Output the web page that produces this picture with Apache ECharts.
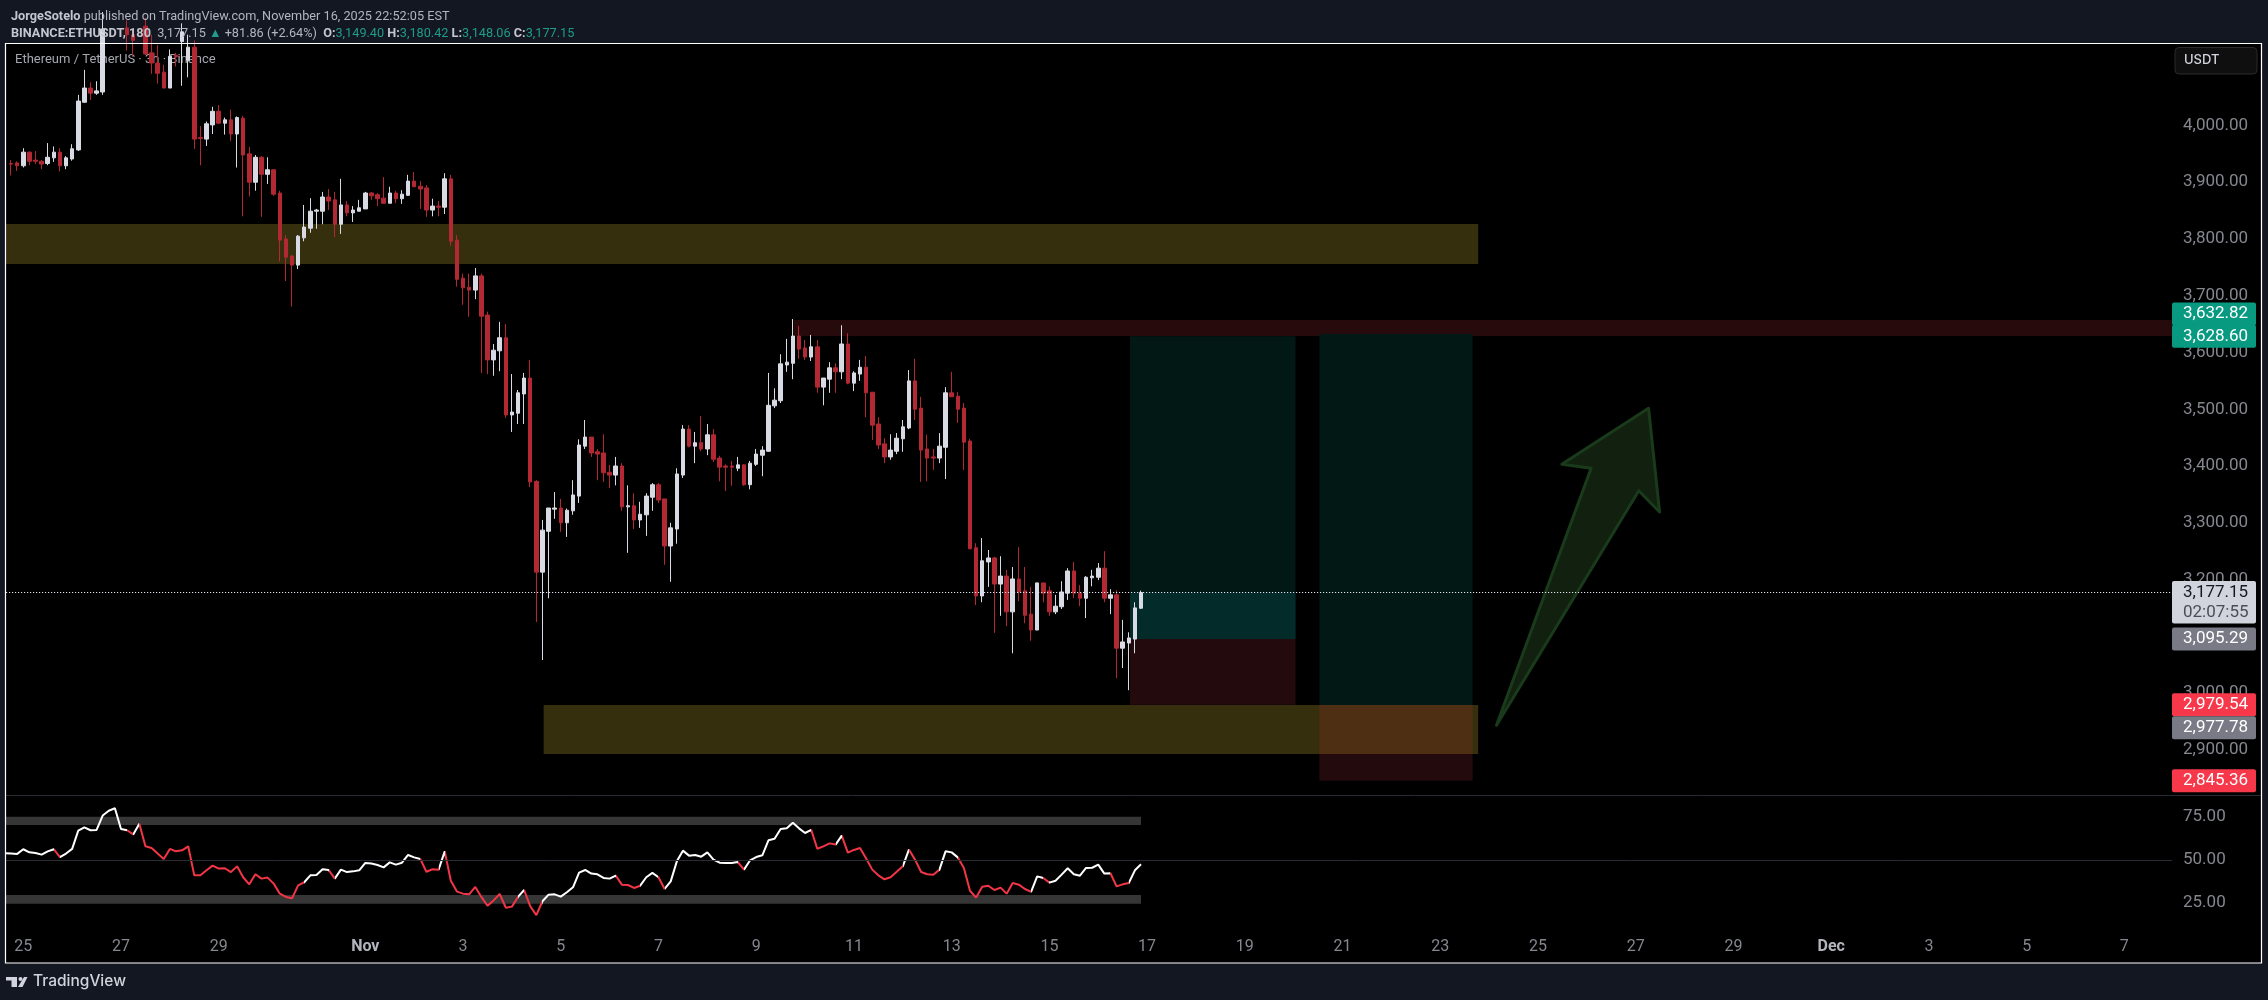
<!DOCTYPE html>
<html>
<head>
<meta charset="utf-8">
<title>ETHUSDT</title>
<style>
html,body{margin:0;padding:0;background:#131722;}
#main{width:2268px;height:1000px;}
</style>
<script src="https://cdn.jsdelivr.net/npm/echarts@6/dist/echarts.min.js"></script>
</head>
<body>
<div id="main"></div>
<script>
var myChart = echarts.init(document.getElementById('main'));

// 3h candles, bar 0 = Oct 25 00:00, first candle sits two bars earlier
var firstBar = -2;
var opens = [
	3933,3934,3929,3953,3939,3937,3933,3943,3953,3929,
	3941,3957,4041,4066,4057,4059,4170,4185,4180,4172,
	4160,4150,4175,4128,4110,4094,4066,4124,4148,4115,
	4138,3979,3976,4001,4025,4004,4010,3985,4013,3950,
	3900,3944,3914,3922,3881,3800,3770,3754,3802,3819,
	3849,3849,3874,3869,3826,3860,3846,3849,3853,3881,
	3878,3872,3863,3881,3871,3877,3902,3893,3890,3851,
	3858,3856,3906,3798,3731,3715,3710,3735,3666,3587,
	3603,3626,3490,3493,3527,3555,3373,3213,3285,3324,
	3326,3300,3321,3347,3435,3451,3425,3423,3389,3384,
	3400,3328,3330,3305,3314,3345,3367,3342,3259,3289,
	3384,3465,3435,3441,3430,3455,3414,3400,3400,3396,
	3402,3367,3403,3419,3426,3506,3515,3578,3581,3629,
	3608,3592,3610,3539,3553,3573,3566,3615,3546,3562,
	3574,3530,3474,3439,3416,3426,3448,3467,3550,3502,
	3430,3416,3414,3433,3529,3523,3502,3444,3256,3171,
	3231,3238,3192,3206,3143,3201,3180,3139,3111,3194,
	3180,3143,3152,3176,3215,3176,3167,3203,3204,3220,
	3167,3173,3079,3088,3095,3149.40
];
var closes = [
	3932,3929,3953,3937,3937,3932,3944,3953,3929,3943,
	3959,4043,4066,4057,4061,4170,4185,4180,4172,4160,
	4150,4175,4126,4110,4092,4066,4122,4121,4165,4138,
	3976,3977,4003,4025,4004,4010,3985,4014,3948,3900,
	3944,3914,3922,3879,3798,3768,3754,3805,3821,3849,
	3851,3874,3867,3826,3860,3846,3851,3855,3881,3876,
	3871,3863,3881,3871,3879,3902,3892,3888,3851,3858,
	3856,3906,3796,3729,3714,3710,3735,3664,3587,3604,
	3626,3490,3495,3529,3555,3372,3213,3287,3326,3326,
	3300,3322,3349,3437,3451,3423,3421,3388,3384,3400,
	3328,3330,3305,3315,3347,3367,3340,3259,3291,3386,
	3465,3435,3441,3430,3455,3412,3398,3398,3398,3402,
	3367,3405,3421,3428,3507,3516,3580,3583,3629,3606,
	3592,3610,3539,3555,3573,3566,3615,3546,3564,3574,
	3529,3472,3437,3416,3428,3449,3469,3550,3500,3428,
	3414,3414,3435,3529,3522,3500,3442,3254,3171,3233,
	3238,3192,3206,3143,3201,3178,3137,3111,3194,3176,
	3143,3153,3178,3215,3176,3167,3204,3206,3220,3167,
	3173,3079,3090,3097,3150,3177.15
];
var lows = [
	3912,3920,3926,3930,3932,3923,3930,3936,3919,3923,
	3938,3955,4040,4045,4054,4054,4160,4165,4160,4132,
	4121,4148,4124,4091,4074,4066,4066,4104,4070,4085,
	3959,3930,3964,3985,4003,3984,3973,3926,3840,3875,
	3885,3839,3897,3876,3760,3726,3681,3747,3796,3811,
	3818,3826,3851,3803,3809,3840,3830,3849,3853,3869,
	3858,3862,3863,3863,3862,3876,3892,3853,3839,3840,
	3840,3844,3788,3716,3684,3663,3694,3564,3562,3559,
	3567,3485,3460,3474,3474,3363,3125,3058,3167,3307,
	3284,3275,3314,3335,3430,3416,3375,3372,3361,3366,
	3321,3247,3289,3291,3277,3321,3335,3226,3196,3263,
	3379,3433,3405,3426,3419,3407,3373,3356,3365,3391,
	3365,3359,3400,3382,3425,3502,3511,3566,3553,3589,
	3587,3585,3529,3507,3529,3529,3553,3544,3532,3550,
	3486,3446,3430,3405,3411,3421,3425,3465,3481,3372,
	3373,3393,3405,3377,3522,3476,3393,3254,3155,3160,
	3187,3106,3136,3118,3070,3162,3123,3092,3111,3160,
	3136,3139,3148,3164,3167,3153,3132,3188,3199,3160,
	3139,3026,3044,3005,3070,3148.06
];
var highs = [
	3939,3937,3960,3954,3955,3939,3969,3963,3960,3946,
	3967,4054,4098,4076,4078,4200,4195,4200,4190,4185,
	4170,4190,4190,4160,4142,4107,4134,4128,4180,4160,
	4150,3999,4007,4033,4036,4014,4028,4016,4017,3962,
	3948,3946,3944,3923,3885,3807,3772,3807,3860,3872,
	3853,3883,3888,3883,3906,3867,3858,3869,3883,3883,
	3881,3909,3892,3885,3886,3913,3918,3902,3895,3871,
	3867,3916,3913,3807,3739,3739,3749,3739,3672,3615,
	3654,3650,3562,3534,3564,3587,3375,3305,3326,3354,
	3342,3325,3375,3447,3481,3451,3430,3456,3402,3416,
	3405,3366,3352,3337,3352,3370,3370,3342,3300,3396,
	3472,3472,3460,3488,3474,3465,3418,3403,3409,3416,
	3403,3409,3430,3435,3564,3537,3597,3624,3659,3647,
	3622,3631,3622,3555,3583,3581,3648,3634,3567,3587,
	3594,3530,3486,3449,3456,3458,3481,3569,3589,3522,
	3455,3430,3458,3539,3566,3530,3511,3448,3264,3273,
	3252,3240,3241,3217,3222,3257,3222,3187,3194,3194,
	3188,3173,3197,3220,3231,3190,3206,3217,3229,3250,
	3183,3181,3129,3107,3160,3180.42
];

// RSI, starts one bar before the candles
var rsiFirstBar = -3;
var rsi = [
	53.9,
	53.7,53.5,56.2,54.4,54.0,53.1,55.0,56.2,51.7,53.7,
	56.4,67.0,68.9,67.2,67.4,75.7,78.5,79.9,67.9,67.2,
	64.8,71.0,57.9,56.9,53.7,50.6,56.4,55.0,55.6,57.9,
	41.1,41.1,44.0,46.7,45.0,45.2,43.0,46.3,40.0,35.9,
	41.7,39.2,39.8,36.3,30.5,28.6,27.8,35.3,37.1,41.1,
	41.3,44.6,44.2,39.2,44.4,43.0,43.4,44.0,48.3,47.9,
	47.1,45.7,48.6,47.3,48.4,52.9,51.5,50.6,43.2,44.6,
	44.4,55.0,38.0,31.7,30.5,30.1,34.4,28.6,23.5,26.6,
	30.3,22.4,23.0,28.6,32.6,23.2,18.1,26.1,29.9,30.1,
	28.8,31.3,34.2,42.7,44.2,42.1,41.7,39.6,39.2,40.9,
	35.7,35.5,33.8,35.1,40.0,42.5,40.0,33.2,37.6,49.2,
	55.4,52.5,52.9,51.9,54.4,50.2,48.4,48.3,48.3,48.8,
	44.4,49.8,51.7,52.7,61.4,62.3,67.9,68.3,71.6,68.3,
	65.6,67.4,56.5,57.9,59.6,58.9,64.1,54.2,55.8,56.9,
	50.8,44.4,41.1,38.8,40.0,43.2,46.3,56.0,50.2,43.0,
	41.7,41.5,44.4,55.0,54.4,51.5,45.4,32.2,28.2,34.5,
	35.1,32.6,34.0,30.5,36.7,35.7,33.2,31.5,40.5,39.6,
	36.9,38.0,41.5,45.2,41.7,40.9,45.4,45.5,47.3,42.1,
	42.3,34.7,35.9,36.7,44.0,47.5
];
// candle numbers where the RSI line turns red
var rsiRedRanges = [[7,8],[19,20],[21,48],[52,53],[67,70],[71,83],[84,87],[99,103],[106,107],[119,120],[131,135],[136,146],[147,152],[155,167],[169,170],[180,183]];

// axes
var priceTicks = [4000,3900,3800,3700,3600,3500,3400,3300,3200,3000,2900];
var rsiTicks = [75,50,25];
var dayTicks = [0,16,32,56,72,88,104,120,136,152,168,184,200,216,232,248,264,280,296,312,328,344];
var dayLabels = ['25','27','29','Nov','3','5','7','9','11','13','15','17','19','21','23','25','27','29','Dec','3','5','7'];

// drawings on the chart, [bar, price]
var upperZone = [[-2.83,3826.4],[238.2,3756]];
var lowerZone = [[85.2,2978.9],[238.2,2892.5]];
var redBand = [[126.1,3657.3],[351.8,3629]];
var lastPrice = 3177.15;
var longA = {left:181.2, right:208.3, target:3628.60, entry:3095.29, stop:2979.54};
var longB = {left:212.2, right:237.3, target:3632.82, entry:2977.78, stop:2845.36};
var arrowBars = [241.2,256.7,251.9,266.1,267.9,264.5];
var arrowPrices = [2943.1,3396,3403,3501.7,3319,3356.5];

// price tags on the right
var tagPrices = [3632.82,3628.60,3177.15,3095.29,2979.54,2977.78,2845.36];
var tagTexts = ['3,632.82','3,628.60','3,177.15','3,095.29','2,979.54','2,977.78','2,845.36'];
var tagSubs = ['','','02:07:55','','','',''];
var tagShift = [-20,0,0,0,0,22,0];
var tagColors = ['#089981','#089981','#d1d4dc','#787b86','#f7374a','#787b86','#f7374a'];
var tagTextColors = ['#fff','#fff','#131722','#fff','#fff','#fff','#fff'];

var green = '#011815';
var greenLight = '#022b29';
var red = '#230a0d';
var bandRed = '#270a0c';
var yellow = '#362f0d';
var overlap = '#4e2f14';
var font = 'Roboto';

var candles = opens.map(function (o, i) {
	return [i + firstBar, o, closes[i], lows[i], highs[i]];
});
var rsiPoints = rsi.map(function (v, i) {
	return [i + rsiFirstBar, v];
});

// white and red stretches of the RSI line, in bars
var rsiPieces = [];
var pieceStart = rsiFirstBar;
rsiRedRanges.forEach(function (r) {
	var from = r[0] + firstBar;
	var to = r[1] + firstBar;
	if (from > pieceStart) {
		rsiPieces.push({min: pieceStart, max: from, color: '#ffffff'});
	}
	rsiPieces.push({min: from, max: to, color: '#f23645'});
	pieceStart = to;
});
rsiPieces.push({min: pieceStart, max: 360, color: '#ffffff'});

// [left bar, top price, right bar, bottom price]
var zones = [
	[redBand[0][0], redBand[0][1], redBand[1][0], redBand[1][1]],
	[longA.left, longA.target, longA.right, longA.entry],
	[longA.left, lastPrice, longA.right, longA.entry],
	[longA.left, longA.entry, longA.right, longA.stop],
	[longB.left, longB.target, longB.right, longB.entry],
	[longB.left, longB.entry, longB.right, longB.stop],
	[upperZone[0][0], upperZone[0][1], upperZone[1][0], upperZone[1][1]],
	[lowerZone[0][0], lowerZone[0][1], lowerZone[1][0], lowerZone[1][1]],
	[longB.left, lowerZone[0][1], longB.right, lowerZone[1][1]]
];
var zoneColors = [bandRed, green, greenLight, red, green, red, yellow, yellow, overlap];

// same thing for the RSI pane
var rsiZones = [[-2.83,75,183,70.2],[-2.83,29.7,183,24.7]];

function renderZone(colors) {
	return function (params, api) {
		var a = api.coord([api.value(0), api.value(1)]);
		var b = api.coord([api.value(2), api.value(3)]);
		return {
			type: 'rect',
			shape: {x: a[0], y: a[1], width: b[0] - a[0], height: b[1] - a[1]},
			style: {fill: colors[params.dataIndex]}
		};
	};
}

var option = {
	backgroundColor: '#131722',
	animation: false,
	title: [{
		left: 6,
		top: 5,
		text: '{b|JorgeSotelo} published on TradingView.com, November 16, 2025 22:52:05 EST',
		textStyle: {
			fontFamily: font, fontSize: 12.7, fontWeight: 'normal', color: '#b2b5be',
			rich: {b: {fontFamily: font, fontSize: 12.7, fontWeight: 'bold', color: '#c3c6ce'}}
		}
	}, {
		left: 6,
		top: 22,
		text: '{b|BINANCE:ETHUSDT, 180}  3,177.15 {g|▲} +81.86 (+2.64%)  {b|O:}{g|3,149.40} {b|H:}{g|3,180.42} {b|L:}{g|3,148.06} {b|C:}{g|3,177.15}',
		textStyle: {
			fontFamily: font, fontSize: 12.7, fontWeight: 'normal', color: '#b2b5be',
			rich: {
				b: {fontFamily: font, fontSize: 12.7, fontWeight: 'bold', color: '#c3c6ce'},
				g: {fontFamily: font, fontSize: 12.7, color: '#1f9c8b'}
			}
		}
	}],
	grid: [
		{left: 6, right: 96, top: 44, height: 751},
		{left: 6, right: 96, top: 795, height: 132}
	],
	xAxis: [{
		type: 'value', gridIndex: 0, min: -2.83, max: 351.8,
		axisLine: {show: false}, axisTick: {show: false}, axisLabel: {show: false}, splitLine: {show: false}
	}, {
		type: 'value', gridIndex: 1, min: -2.83, max: 351.8,
		axisLine: {show: false}, axisTick: {show: false}, splitLine: {show: false},
		axisLabel: {
			customValues: dayTicks,
			margin: 12,
			fontFamily: font, fontSize: 16, color: '#85878e',
			formatter: function (v) {
				var s = dayLabels[dayTicks.indexOf(v)];
				return s === 'Nov' || s === 'Dec' ? '{m|' + s + '}' : s;
			},
			rich: {m: {fontFamily: font, fontSize: 16, fontWeight: 'bold', color: '#b2b5be'}}
		}
	}],
	yAxis: [{
		type: 'value', gridIndex: 0, position: 'right', min: 2820.3, max: 4143.6,
		axisLine: {show: false}, axisTick: {show: false}, splitLine: {show: false},
		axisLabel: {
			customValues: priceTicks,
			margin: 11,
			fontFamily: font, fontSize: 17, color: '#85878e',
			formatter: function (v) {
				return v.toLocaleString('en-US', {minimumFractionDigits: 2});
			}
		}
	}, {
		type: 'value', gridIndex: 1, position: 'right', min: 11.2, max: 87.6,
		axisLine: {show: false}, axisTick: {show: false}, splitLine: {show: false},
		axisLabel: {
			customValues: rsiTicks,
			margin: 11,
			fontFamily: font, fontSize: 17, color: '#85878e',
			formatter: function (v) {
				return v.toFixed(2);
			}
		}
	}],
	visualMap: {
		type: 'piecewise',
		show: false,
		seriesIndex: 5,
		dimension: 0,
		pieces: rsiPieces
	},
	series: [{
		type: 'custom',
		name: 'zones',
		xAxisIndex: 0,
		yAxisIndex: 0,
		z: 1,
		silent: true,
		clip: true,
		encode: {x: [0, 2], y: [1, 3]},
		data: zones,
		renderItem: renderZone(zoneColors)
	}, {
		type: 'custom',
		name: 'arrow',
		xAxisIndex: 0,
		yAxisIndex: 0,
		z: 2,
		silent: true,
		data: [[arrowBars[0], arrowPrices[0]]],
		renderItem: function (params, api) {
			var points = arrowBars.map(function (b, i) {
				return api.coord([b, arrowPrices[i]]);
			});
			return {
				type: 'polygon',
				shape: {points: points},
				style: {fill: '#11200f', stroke: '#1a3b1b', lineWidth: 3, lineJoin: 'round'}
			};
		}
	}, {
		type: 'candlestick',
		name: 'ETHUSDT',
		xAxisIndex: 0,
		yAxisIndex: 0,
		z: 3,
		barWidth: 4,
		encode: {x: 0, y: [1, 2, 3, 4]},
		data: candles,
		itemStyle: {
			color: '#d9dbe4',
			color0: '#b22833',
			borderColor: '#d9dbe4',
			borderColor0: '#b22833',
			borderWidth: 1
		},
		markLine: {
			silent: true,
			symbol: 'none',
			label: {show: false},
			lineStyle: {type: [1.2, 1.8], color: '#e0e3eb', width: 1},
			data: [{yAxis: lastPrice}]
		}
	}, {
		type: 'custom',
		name: 'tags',
		xAxisIndex: 0,
		yAxisIndex: 0,
		z: 10,
		silent: true,
		clip: false,
		data: tagPrices.map(function (p) {
			return [0, p];
		}),
		renderItem: function (params, api) {
			var i = params.dataIndex;
			var y = api.coord([0, tagPrices[i]])[1] + tagShift[i];
			var x = params.coordSys.x + params.coordSys.width;
			var children = [{
				type: 'rect',
				shape: {x: x, y: y - 11.5, width: 84, height: tagSubs[i] ? 42.5 : 23, r: 2},
				style: {fill: tagColors[i]}
			}, {
				type: 'text',
				style: {x: x + 11, y: y, text: tagTexts[i], fill: tagTextColors[i], font: '17px ' + font, verticalAlign: 'middle'}
			}];
			if (tagSubs[i]) {
				children.push({
					type: 'text',
					style: {x: x + 11, y: y + 20, text: tagSubs[i], fill: '#4a4d57', font: '17px ' + font, verticalAlign: 'middle'}
				});
			}
			return {type: 'group', children: children};
		}
	}, {
		type: 'custom',
		name: 'rsi zones',
		xAxisIndex: 1,
		yAxisIndex: 1,
		z: 1,
		silent: true,
		encode: {x: [0, 2], y: [1, 3]},
		data: rsiZones,
		renderItem: renderZone(['#363636', '#363636'])
	}, {
		type: 'line',
		name: 'RSI',
		xAxisIndex: 1,
		yAxisIndex: 1,
		z: 3,
		symbol: 'none',
		data: rsiPoints,
		lineStyle: {width: 2},
		markLine: {
			silent: true,
			symbol: 'none',
			label: {show: false},
			lineStyle: {type: 'solid', color: '#2a2c33', width: 1},
			data: [{yAxis: 50}]
		}
	}],
	graphic: [
		{type: 'rect', z: -10, silent: true, shape: {x: 6, y: 44, width: 2255, height: 919}, style: {fill: '#000'}},
		{type: 'text', z: 1, silent: true, x: 15, y: 53, style: {text: 'Ethereum / TetherUS · 3h · Binance', fill: '#a5a7ae', font: '13px ' + font}},
		{type: 'line', z: 20, silent: true, shape: {x1: 6, y1: 795.5, x2: 2261, y2: 795.5}, style: {stroke: '#2a2c33', lineWidth: 1}},
		{type: 'rect', z: 30, silent: true, shape: {x: 5.5, y: 43.5, width: 2256, height: 919.5}, style: {fill: 'none', stroke: '#fff', lineWidth: 1.2}},
		{type: 'rect', z: 20, silent: true, shape: {x: 2175, y: 47.5, width: 82, height: 26.5, r: 4}, style: {fill: '#0f0f0f', stroke: '#2a2a2a', lineWidth: 1}},
		{type: 'text', z: 21, silent: true, x: 2184, y: 54, style: {text: 'USDT', fill: '#d1d4dc', font: '500 13px Inter'}},
		// TradingView logo
		{type: 'polygon', silent: true, shape: {points: [[6,977],[17,977],[17,987],[11.5,987],[11.5,980.5],[6,980.5]]}, style: {fill: '#d1d4dc'}},
		{type: 'circle', silent: true, shape: {cx: 20.5, cy: 979, r: 2}, style: {fill: '#d1d4dc'}},
		{type: 'polygon', silent: true, shape: {points: [[24,977],[27.5,977],[22.5,987],[18,987]]}, style: {fill: '#d1d4dc'}},
		{type: 'text', silent: true, x: 33, y: 973, style: {text: 'TradingView', fill: '#d1d4dc', font: '500 15.5px Inter'}}
	]
};

// 使用刚指定的配置项和数据显示图表。
myChart.setOption(option);
</script>
</body>
</html>
